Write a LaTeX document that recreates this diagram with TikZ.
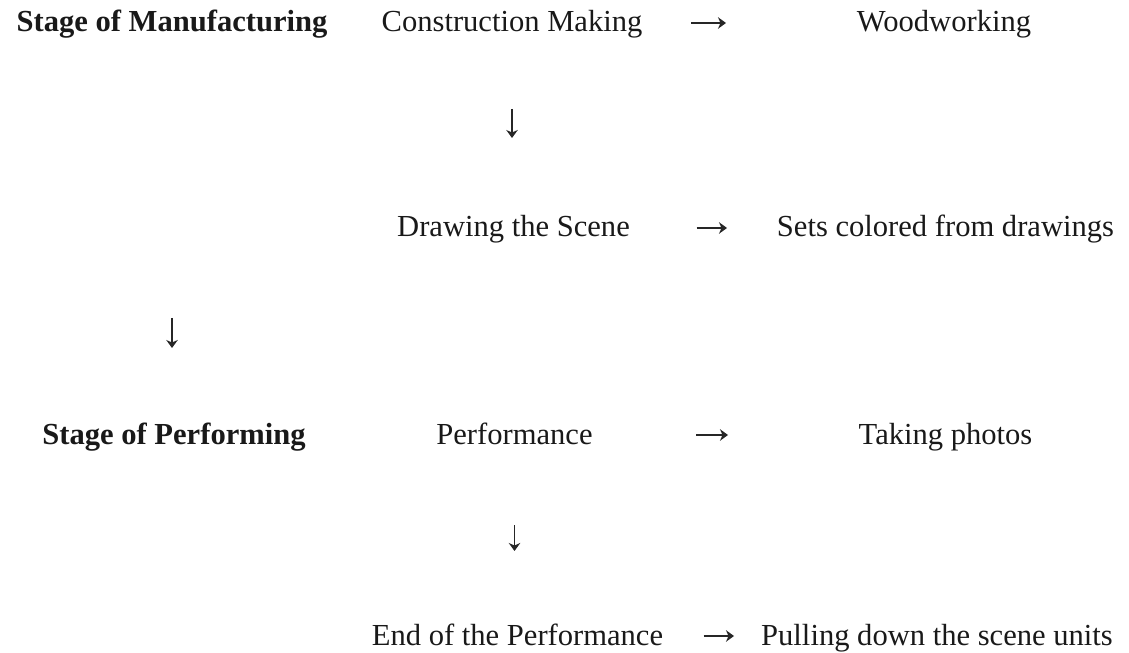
\documentclass[tikz,border=0pt]{standalone}
\usepackage{fontspec}
\setmainfont{Liberation Serif}
\usetikzlibrary{arrows.meta}

\begin{document}
\begin{tikzpicture}[
    word/.style={anchor=base, inner sep=0pt, text height=0.46cm, text depth=0.1cm,
        font=\fontsize{17.4}{20}\selectfont, text=black!90},
    stage/.style={word, font=\fontsize{17.4}{20}\selectfont\bfseries},
    arr/.style={line width=0.85pt, draw=black!85,
        -{Stealth[length=1.6mm, width=2.3mm, inset=0.5mm]}},
]
    \useasboundingbox (0, 0) rectangle (22.58, -13.06);

    % Stage headers
    \node[stage] (sm) at (3.44, -0.64) {Stage of Manufacturing};
    \node[stage] (sp) at (3.48, -8.88) {Stage of Performing};

    % Manufacturing steps
    \node[word] (cm) at (10.24, -0.64) {Construction Making};
    \node[word] (ww) at (18.88, -0.64) {Woodworking};
    \node[word] (ds) at (10.27, -4.74) {Drawing the Scene};
    \node[word] (sc) at (18.91, -4.74) {Sets colored from drawings};

    % Performing steps
    \node[word] (pf) at (10.29, -8.88) {Performance};
    \node[word] (tp) at (18.91, -8.88) {Taking photos};
    \node[word] (ep) at (10.35, -12.9) {End of the Performance};
    \node[word] (pd) at (18.74, -12.9) {Pulling down the scene units};

    % Side arrows
    \draw[arr, shorten <=3.58cm, shorten >=4.36cm] (cm.center) -- (ww.center);
    \draw[arr, shorten <=3.66cm, shorten >=4.37cm] (ds.center) -- (sc.center);
    \draw[arr, shorten <=3.63cm, shorten >=4.35cm] (pf.center) -- (tp.center);
    \draw[arr, shorten <=3.72cm, shorten >=4.06cm] (ep.center) -- (pd.center);

    % Down arrows
    \draw[arr, shorten <=1.72cm, shorten >=1.8cm] (cm.center) -- (cm.center |- ds.center);
    \draw[arr, shorten <=5.9cm, shorten >=1.74cm] (sm.center) -- (sm.center |- sp.center);
    \draw[arr, shorten <=1.8cm, shorten >=1.7cm] (pf.center) -- (pf.center |- ep.center);
\end{tikzpicture}
\end{document}
